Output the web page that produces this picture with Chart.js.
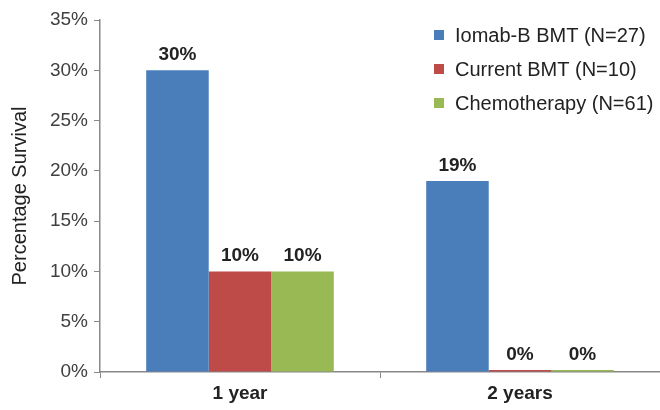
<!DOCTYPE html>
<html>
<head>
<meta charset="utf-8">
<script src="https://cdn.jsdelivr.net/npm/chart.js@4/dist/chart.umd.min.js"></script>
<style>
  html, body { margin: 0; padding: 0; background: #fff; }
  #wrap { width: 660px; height: 410px; }
</style>
</head>
<body>
<div id="wrap"><canvas id="c" width="660" height="410"></canvas></div>
<script>
const categories = ['1 year', '2 years'];
const seriesNames = ['Iomab-B BMT (N=27)', 'Current BMT (N=10)', 'Chemotherapy (N=61)'];
const iomabValues = [30, 19];
const currentValues = [10, 0];
const chemoValues = [10, 0];
const yTicks = [0, 5, 10, 15, 20, 25, 30, 35];

const colors = ['#4a7ebb', '#be4b48', '#98b954'];
const FONT = '"Liberation Sans", Arial, sans-serif';

// Percentage labels printed above each bar
const valueLabels = {
  id: 'valueLabels',
  afterDatasetsDraw(chart) {
    const ctx = chart.ctx;
    ctx.save();
    ctx.font = 'bold 19px ' + FONT;
    ctx.fillStyle = '#222';
    ctx.textAlign = 'center';
    ctx.textBaseline = 'alphabetic';
    chart.data.datasets.forEach((ds, i) => {
      chart.getDatasetMeta(i).data.forEach((bar, j) => {
        ctx.fillText(ds.data[j] + '%', bar.x, bar.y - 10);
      });
    });
    ctx.restore();
  }
};

// Legend stacked in the upper right corner of the plot
const cornerLegend = {
  id: 'cornerLegend',
  afterDraw(chart) {
    const ctx = chart.ctx;
    ctx.save();
    ctx.font = '20px ' + FONT;
    ctx.textBaseline = 'middle';
    ctx.textAlign = 'left';
    chart.data.datasets.forEach((ds, i) => {
      const y = 35 + i * 34;
      ctx.fillStyle = ds.backgroundColor;
      ctx.fillRect(434, y - 5, 10, 10);
      ctx.fillStyle = '#222';
      ctx.fillText(ds.label, 455, y + 1);
    });
    ctx.restore();
  }
};

const seriesValues = [iomabValues, currentValues, chemoValues];

new Chart(document.getElementById('c'), {
  type: 'bar',
  data: {
    labels: categories,
    datasets: seriesNames.map((name, i) => ({
      label: name,
      data: seriesValues[i],
      backgroundColor: colors[i],
      borderWidth: 0,
      categoryPercentage: 0.67,
      barPercentage: 1.0,
      minBarLength: 2
    }))
  },
  options: {
    responsive: false,
    animation: false,
    layout: { padding: { top: 20, right: 0, left: 0, bottom: 0 } },
    plugins: {
      legend: { display: false },
      tooltip: { enabled: false }
    },
    scales: {
      x: {
        grid: { display: true, drawOnChartArea: false, tickLength: 6, color: '#888', offset: true },
        border: { color: '#888', width: 1.5 },
        ticks: { color: '#222', font: { family: FONT, size: 19, weight: 'bold' }, padding: 4 },
        afterFit(s) { s.height = 38; }
      },
      y: {
        min: 0,
        max: 35,
        afterBuildTicks(s) { s.ticks = yTicks.map(v => ({ value: v })); },
        grid: { display: true, drawOnChartArea: false, tickLength: 6, color: '#888' },
        border: { color: '#888', width: 1.5 },
        ticks: {
          color: '#404040',
          font: { family: FONT, size: 19 },
          padding: 6,
          callback: v => v + '%'
        },
        title: {
          display: true,
          text: 'Percentage Survival',
          color: '#222',
          font: { family: FONT, size: 20 },
          padding: { top: 8, bottom: 0 }
        },
        afterFit(s) { s.width = 100; }
      }
    }
  },
  plugins: [valueLabels, cornerLegend]
});
</script>
</body>
</html>
